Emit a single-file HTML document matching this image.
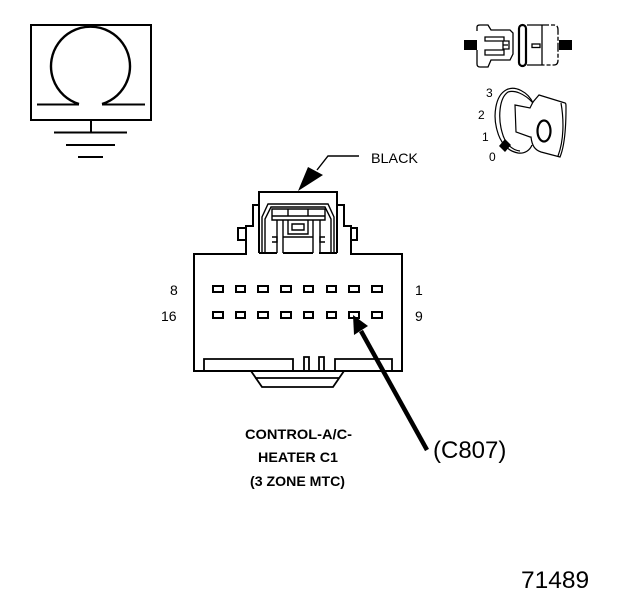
<!DOCTYPE html>
<html><head><meta charset="utf-8">
<style>
html,body{margin:0;padding:0;background:#fff;width:624px;height:600px;overflow:hidden}
svg{display:block}
text{font-family:"Liberation Sans",sans-serif;fill:#000}
</style></head>
<body>
<svg width="624" height="600" viewBox="0 0 624 600" xmlns="http://www.w3.org/2000/svg">
<rect width="624" height="600" fill="#fff"/>
<!-- ground symbol -->
<g fill="none" stroke="#000" stroke-width="2">
<rect x="31" y="25" width="120" height="95"/>
<path d="M79 104 A39.5 39.5 0 1 1 102 104" stroke-width="2.4"/>
<path d="M37 104.5H79M102 104.5H145"/>
<path d="M91 120V132M54 132.5H127M66 145H115M78 157H103"/>
</g>
<!-- plug icon -->
<g fill="#000"><rect x="464" y="40" width="13" height="10"/><rect x="559" y="40" width="13" height="10"/></g>
<g fill="none" stroke="#000" stroke-width="1.3">
<path d="M477 31V27Q477 25 480 25H488L491 30H510L513 33V54L510 60H491L488 67H480Q477 67 477 64V50"/>
<path d="M485 37H504V41H509V49H504V55H485V50H503V41H485Z"/>
<path d="M503 45H508"/>
<path d="M527 25H540M527 65H540"/>
<path d="M540 25H554Q558 25 558 30V60Q558 65 554 65H540" stroke-dasharray="9 2 4 2"/>
<path d="M542 25V65"/>
<rect x="532" y="44" width="8" height="3.5"/>
</g>
<rect x="519" y="25" width="7" height="41" rx="3.5" fill="none" stroke="#000" stroke-width="2.2"/>
<!-- key icon -->
<g fill="none" stroke="#000" stroke-width="1.2">
<path d="M533 103C528 92 515 85 506 90C495 96 493 116 497 130C500 142 507 151 518 153C525 154 530 150 532 145"/>
<path d="M533 103C524 93 514 90 508 92C499 98 498 118 502 132C505 144 512 150 520 151"/>
<path d="M515 105L530 108L533 102L539 95L565 103C566 103 566 105 566 108C566 125 565 145 560 157L541 152C535 150 532 146 531 137L530 137L516 132Z"/>
<path d="M561 103C564 120 564 140 558 156"/>
<ellipse cx="544" cy="131" rx="6.5" ry="10.5" stroke-width="2.2"/>
</g>
<path d="M505 139L511 145L505 152L499 146Z" fill="#000"/>
<g font-size="12">
<text x="486" y="97">3</text>
<text x="478" y="119">2</text>
<text x="482" y="141">1</text>
<text x="489" y="161">0</text>
</g>
<!-- black arrow -->
<path d="M359 156H328L317 170" fill="none" stroke="#000" stroke-width="1.4"/>
<path d="M298 191L308 167L323 175Z" fill="#000"/>
<text x="371" y="163" font-size="14" textLength="47" lengthAdjust="spacingAndGlyphs">BLACK</text>
<!-- connector -->
<g fill="none" stroke="#000" stroke-width="2">
<path d="M194 254H246V226H253V205H259V192H337V205H344V226H351V254H402V371H194Z"/>
<path d="M259 192V253M337 192V253"/>
<path d="M246 228H238V240H246M351 228H357V240H351"/>
<path d="M259 253H277M283 253H313M319 253H337"/>
</g>
<g fill="none" stroke="#000" stroke-width="1.4">
<path d="M262 253V217L268 204H328L334 217V253"/>
<path d="M265 253V219L271 207H325L331 219V253"/>
<path d="M272 209H325V216H272ZM272 216V220H325V216M288 209V216M308 209V216"/>
<path d="M277 220V253M320 220V253M283 220V253M313 220V253"/>
<path d="M288 220V234H308V220M292 224H304V230H292ZM283 237H313"/>
<path d="M272 237H277V242H272M325 237H320V242H325"/>
</g>
<g fill="none" stroke="#000" stroke-width="1.8">
<path d="M204 371V359H293V371M304 371V357H309V371M319 371V357H324V371M335 371V359H392V371"/>
<path d="M251 371L262 387H333L344 371M255 378H339"/>
</g>
<!-- pins -->
<g fill="none" stroke="#000" stroke-width="2">
<rect x="213" y="286" width="10" height="6"/><rect x="236" y="286" width="9" height="6"/><rect x="258" y="286" width="10" height="6"/><rect x="281" y="286" width="10" height="6"/><rect x="304" y="286" width="9" height="6"/><rect x="327" y="286" width="9" height="6"/><rect x="349" y="286" width="10" height="6"/><rect x="372" y="286" width="10" height="6"/>
<rect x="213" y="312" width="10" height="6"/><rect x="236" y="312" width="9" height="6"/><rect x="258" y="312" width="10" height="6"/><rect x="281" y="312" width="10" height="6"/><rect x="304" y="312" width="9" height="6"/><rect x="327" y="312" width="9" height="6"/><rect x="349" y="312" width="10" height="6"/><rect x="372" y="312" width="10" height="6"/>
</g>
<g font-size="14">
<text x="170" y="295">8</text>
<text x="161" y="321">16</text>
<text x="415" y="295">1</text>
<text x="415" y="321">9</text>
</g>
<!-- C807 arrow -->
<path d="M427 450L361 331" fill="none" stroke="#000" stroke-width="4.5"/>
<path d="M353 315L368 326L354 335Z" fill="#000"/>
<text x="433" y="458" font-size="24">(C807)</text>
<g font-size="14" font-weight="bold">
<text x="245" y="439" textLength="107" lengthAdjust="spacingAndGlyphs">CONTROL-A/C-</text>
<text x="258" y="462" textLength="80" lengthAdjust="spacingAndGlyphs">HEATER C1</text>
<text x="250" y="486" textLength="95" lengthAdjust="spacingAndGlyphs">(3 ZONE MTC)</text>
</g>
<text x="521" y="588" font-size="24.5">71489</text>
</svg>
</body></html>
